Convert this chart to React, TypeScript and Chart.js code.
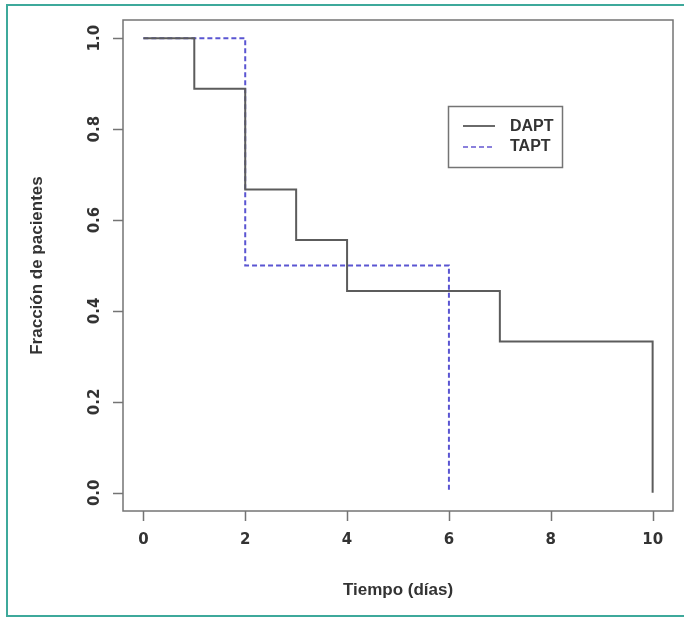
import React, { useEffect, useRef } from 'react';
import { Chart, registerables } from 'chart.js';

Chart.register(...registerables);

// ---- data ----
const daptDays = [0, 1, 2, 3, 4, 7, 10];
const daptSurvival = [1.0, 0.889, 0.667, 0.556, 0.444, 0.333, 0.0];
const taptDays = [0, 2, 6];
const taptSurvival = [1.0, 0.5, 0.0];
const seriesNames = ['DAPT', 'TAPT'];
const xTickValues = [0, 2, 4, 6, 8, 10];
const xTickLabels = ['0', '2', '4', '6', '8', '10'];
const yTickValues = [0, 0.2, 0.4, 0.6, 0.8, 1.0];
const yTickLabels = ['0.0', '0.2', '0.4', '0.6', '0.8', '1.0'];
const xTitle = 'Tiempo (días)';
const yTitle = 'Fracción de pacientes';

const DAPT_COLOR = '#5c5c5c';
const TAPT_COLOR = '#5a55d2';
const AXIS_COLOR = '#747474';
const TEXT_COLOR = '#333333';
const FRAME_COLOR = '#3ea99b';

const decorPlugin = {
  id: 'decor',
  afterDraw(chart: any) {
    const { ctx, chartArea: a, scales } = chart;
    const xs = scales.x;
    const ys = scales.y;
    ctx.save();

    // plot box
    ctx.strokeStyle = AXIS_COLOR;
    ctx.lineWidth = 1.5;
    ctx.setLineDash([]);
    ctx.strokeRect(a.left, a.top, a.right - a.left, a.bottom - a.top);

    // tick marks
    ctx.beginPath();
    xTickValues.forEach((v) => {
      const px = Math.round(xs.getPixelForValue(v)) + 0.5;
      ctx.moveTo(px, a.bottom);
      ctx.lineTo(px, a.bottom + 10);
    });
    yTickValues.forEach((v) => {
      const py = Math.round(ys.getPixelForValue(v)) + 0.5;
      ctx.moveTo(a.left, py);
      ctx.lineTo(a.left - 10, py);
    });
    ctx.stroke();

    // tick labels
    ctx.fillStyle = TEXT_COLOR;
    ctx.font = 'bold 15px "DejaVu Sans"';
    ctx.textAlign = 'center';
    ctx.textBaseline = 'middle';
    xTickValues.forEach((v, i) => {
      ctx.fillText(xTickLabels[i], xs.getPixelForValue(v), a.bottom + 29);
    });
    yTickValues.forEach((v, i) => {
      ctx.save();
      ctx.translate(a.left - 28, ys.getPixelForValue(v));
      ctx.rotate(-Math.PI / 2);
      ctx.fillText(yTickLabels[i], 0, 0);
      ctx.restore();
    });

    // axis titles
    ctx.font = 'bold 17px "Liberation Sans"';
    ctx.fillText(xTitle, (a.left + a.right) / 2, 590);
    ctx.save();
    ctx.translate(37, (a.top + a.bottom) / 2);
    ctx.rotate(-Math.PI / 2);
    ctx.fillText(yTitle, 0, 0);
    ctx.restore();

    // legend
    ctx.strokeStyle = AXIS_COLOR;
    ctx.lineWidth = 1.5;
    ctx.strokeRect(448.5, 106.5, 114, 61);
    ctx.lineWidth = 2;
    ctx.strokeStyle = '#6a6a6a';
    ctx.beginPath();
    ctx.moveTo(463, 126);
    ctx.lineTo(495, 126);
    ctx.stroke();
    ctx.strokeStyle = '#8a80dc';
    ctx.setLineDash([5, 3]);
    ctx.beginPath();
    ctx.moveTo(463, 147);
    ctx.lineTo(495, 147);
    ctx.stroke();
    ctx.setLineDash([]);
    ctx.fillStyle = TEXT_COLOR;
    ctx.font = 'bold 16px "Liberation Sans"';
    ctx.textAlign = 'left';
    ctx.fillText(seriesNames[0], 510, 127);
    ctx.fillText(seriesNames[1], 510, 147);

    // outer teal frame
    ctx.strokeStyle = FRAME_COLOR;
    ctx.lineWidth = 2;
    ctx.beginPath();
    ctx.moveTo(684, 5);
    ctx.lineTo(7, 5);
    ctx.lineTo(7, 616);
    ctx.lineTo(684, 616);
    ctx.stroke();

    ctx.restore();
  },
};

export default function App() {
  const canvasRef = useRef<HTMLCanvasElement | null>(null);

  useEffect(() => {
    const canvas = canvasRef.current;
    if (!canvas) return;
    const chart = new Chart(canvas, {
      type: 'line',
      data: {
        datasets: [
          {
            label: seriesNames[0],
            data: daptDays.map((d, i) => ({ x: d, y: daptSurvival[i] })),
            borderColor: DAPT_COLOR,
            borderWidth: 2,
            stepped: 'before',
            pointRadius: 0,
            fill: false,
            clip: false as any,
          },
          {
            label: seriesNames[1],
            data: taptDays.map((d, i) => ({ x: d, y: taptSurvival[i] })),
            borderColor: TAPT_COLOR,
            borderWidth: 2,
            borderDash: [5, 3],
            stepped: 'before',
            pointRadius: 0,
            fill: false,
            clip: false as any,
          },
        ],
      },
      options: {
        responsive: false,
        animation: false,
        devicePixelRatio: 1,
        layout: { padding: { left: 123, top: 20, right: 11, bottom: 107 } },
        plugins: { legend: { display: false }, tooltip: { enabled: false } },
        scales: {
          x: { type: 'linear', min: -0.4, max: 10.4, display: false },
          y: { type: 'linear', min: -0.04, max: 1.04, display: false },
        },
      },
      plugins: [decorPlugin],
    });
    return () => chart.destroy();
  }, []);

  return (
    <div style={{ position: 'fixed', left: 0, top: 0, width: 684, height: 618, background: '#ffffff' }}>
      <canvas ref={canvasRef} width={684} height={618} style={{ display: 'block' }} />
    </div>
  );
}
